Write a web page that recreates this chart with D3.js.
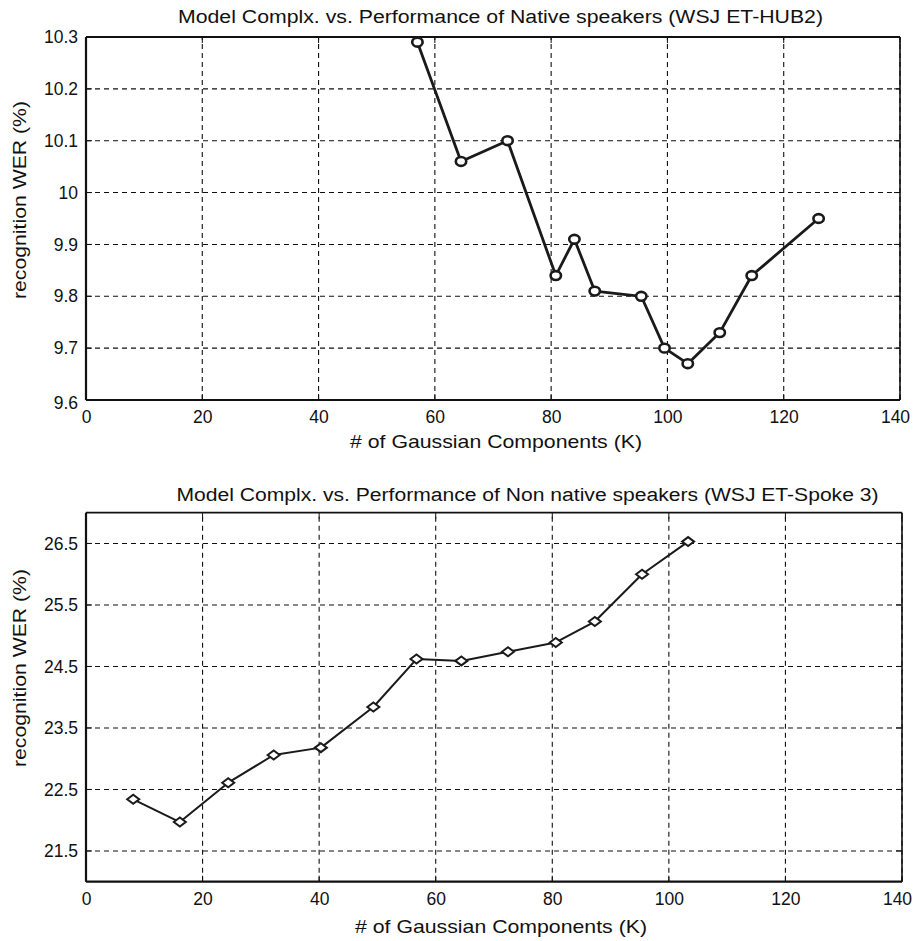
<!DOCTYPE html>
<html><head><meta charset="utf-8">
<script src="https://cdn.jsdelivr.net/npm/d3@7"></script>
<style>
html,body{margin:0;padding:0;background:#fff;}
text{font-family:"Liberation Sans",Arial,Helvetica,sans-serif;fill:#111;}
</style></head>
<body>
<svg id="chart" width="915" height="941"></svg>
<script>
// ---- data ----
const nativeK   = [57, 64.5, 72.5, 80.8, 84, 87.5, 95.5, 99.5, 103.5, 109, 114.5, 126];
const nativeWER = [10.29, 10.06, 10.10, 9.84, 9.91, 9.81, 9.80, 9.70, 9.67, 9.73, 9.84, 9.95];
const nonNativeK   = [8.1, 16.1, 24.4, 32.2, 40.3, 49.3, 56.7, 64.4, 72.4, 80.6, 87.3, 95.4, 103.3];
const nonNativeWER = [22.34, 21.97, 22.61, 23.06, 23.18, 23.84, 24.62, 24.59, 24.74, 24.89, 25.23, 26.0, 26.53];
const xTicks = [0, 20, 40, 60, 80, 100, 120, 140];
const yTicksTop = [9.6, 9.7, 9.8, 9.9, 10, 10.1, 10.2, 10.3];
const yTicksBottom = [21.5, 22.5, 23.5, 24.5, 25.5, 26.5];
const titleTop = "Model  Complx. vs. Performance of Native speakers (WSJ ET-HUB2)";
const titleBottom = "Model Complx. vs. Performance of Non native speakers (WSJ ET-Spoke 3)";
const xLabel = "# of Gaussian Components (K)";
const yLabel = "recognition WER (%)";

const svg = d3.select("#chart");

function panel(cfg) {
  const g = svg.append("g");
  const x = d3.scaleLinear().domain([0, 140]).range([cfg.left, cfg.right]);
  const y = d3.scaleLinear().domain(cfg.yDomain).range([cfg.bottom, cfg.top]);

  // grid
  const grid = g.append("g").attr("stroke", "#111").attr("stroke-width", 1.1)
    .attr("stroke-dasharray", "5,4");
  xTicks.filter(t => t > 0).forEach(t => {
    grid.append("line").attr("x1", x(t)).attr("x2", x(t)).attr("y1", cfg.bottom).attr("y2", cfg.top);
  });
  cfg.yTicks.filter(t => y(t) < cfg.bottom - 1 && y(t) > cfg.top + 1).forEach(t => {
    grid.append("line").attr("x1", cfg.left).attr("x2", cfg.right).attr("y1", y(t)).attr("y2", y(t));
  });

  // axes via d3
  const xAxis = d3.axisBottom(x).tickValues(xTicks).tickSize(0).tickPadding(10).tickFormat(d3.format("d"));
  const gx = g.append("g").attr("transform", `translate(0,${cfg.bottom})`).call(xAxis);
  gx.select(".domain").remove();
  gx.selectAll("text").attr("font-size", 17.5).attr("font-family", "Liberation Sans, Arial, sans-serif").attr("fill", "#111").attr("dy", "0.75em");
  gx.selectAll("text").filter(d => d === 140).attr("dx", -5);

  const yAxis = d3.axisLeft(y).tickValues(cfg.yTicks).tickSize(0).tickPadding(8).tickFormat(d => String(d));
  const gy = g.append("g").attr("transform", `translate(${cfg.left},0)`).call(yAxis);
  gy.select(".domain").remove();
  gy.selectAll("text").attr("font-size", 17.5).attr("font-family", "Liberation Sans, Arial, sans-serif").attr("fill", "#111");
  if (cfg.lowLabelShift) {
    gy.selectAll("text").filter(d => d === cfg.yDomain[0]).attr("dy", "0.5em");
  }

  // inward ticks on right & top
  const tk = g.append("g").attr("stroke", "#111").attr("stroke-width", 1);
  cfg.yTicks.forEach(t => {
    tk.append("line").attr("x1", cfg.right).attr("x2", cfg.right - 6).attr("y1", y(t)).attr("y2", y(t));
    tk.append("line").attr("x1", cfg.left).attr("x2", cfg.left + 6).attr("y1", y(t)).attr("y2", y(t));
  });
  xTicks.forEach(t => {
    tk.append("line").attr("x1", x(t)).attr("x2", x(t)).attr("y1", cfg.top).attr("y2", cfg.top + 6);
    tk.append("line").attr("x1", x(t)).attr("x2", x(t)).attr("y1", cfg.bottom).attr("y2", cfg.bottom - 6);
  });

  // frame
  const fr = g.append("g").attr("stroke", "#111").attr("fill", "none");
  fr.append("line").attr("x1", cfg.left).attr("x2", cfg.right).attr("y1", cfg.top).attr("y2", cfg.top).attr("stroke-width", 1.8);
  fr.append("line").attr("x1", cfg.left).attr("x2", cfg.right).attr("y1", cfg.bottom).attr("y2", cfg.bottom).attr("stroke-width", 2.2);
  fr.append("line").attr("x1", cfg.left).attr("x2", cfg.left).attr("y1", cfg.top).attr("y2", cfg.bottom).attr("stroke-width", 2.2);
  fr.append("line").attr("x1", cfg.right).attr("x2", cfg.right).attr("y1", cfg.top).attr("y2", cfg.bottom).attr("stroke-width", 1.6);

  // data line
  const pts = cfg.xs.map((k, i) => [k, cfg.ys[i]]);
  const line = d3.line().x(d => x(d[0])).y(d => y(d[1]));
  g.append("path").datum(pts).attr("d", line).attr("fill", "none").attr("stroke", "#1a1a1a")
    .attr("stroke-width", cfg.lineW).attr("stroke-linejoin", "round");

  // markers
  if (cfg.marker === "circle") {
    g.selectAll(".m").data(pts).enter().append("ellipse")
      .attr("cx", d => x(d[0])).attr("cy", d => y(d[1])).attr("rx", 5.2).attr("ry", 4.4)
      .attr("fill", "#fff").attr("stroke", "#1a1a1a").attr("stroke-width", 2.6);
  } else {
    g.selectAll(".m").data(pts).enter().append("path")
      .attr("d", d => `M${x(d[0]) - 6},${y(d[1])} L${x(d[0])},${y(d[1]) - 4.5} L${x(d[0]) + 6},${y(d[1])} L${x(d[0])},${y(d[1]) + 4.5} Z`)
      .attr("fill", "#fff").attr("stroke", "#1a1a1a").attr("stroke-width", 2);
  }

  // title & labels
  g.append("text").attr("x", cfg.titleX).attr("y", cfg.titleY).attr("text-anchor", "middle")
    .attr("font-size", 18).attr("textLength", cfg.titleW).attr("lengthAdjust", "spacingAndGlyphs").text(cfg.title);
  g.append("text").attr("x", cfg.xLabX).attr("y", cfg.xLabY).attr("text-anchor", "middle")
    .attr("font-size", 19).attr("textLength", 292).attr("lengthAdjust", "spacingAndGlyphs").text(xLabel);
  g.append("text").attr("transform", `translate(${cfg.yLabX},${cfg.yLabY}) rotate(-90)`).attr("text-anchor", "middle")
    .attr("font-size", 19).attr("textLength", 198).attr("lengthAdjust", "spacingAndGlyphs").text(yLabel);
}

panel({
  left: 86, right: 900, top: 37, bottom: 400, yDomain: [9.6, 10.3], yTicks: yTicksTop,
  xs: nativeK, ys: nativeWER, marker: "circle", lineW: 2.8, lowLabelShift: true,
  title: titleTop, titleX: 500.5, titleY: 23, titleW: 645,
  xLabX: 496, xLabY: 448, yLabX: 26, yLabY: 200
});
panel({
  left: 86, right: 902, top: 512.7, bottom: 881.7, yDomain: [21, 27], yTicks: yTicksBottom,
  xs: nonNativeK, ys: nonNativeWER, marker: "diamond", lineW: 2,
  title: titleBottom, titleX: 527.5, titleY: 501, titleW: 702,
  xLabX: 501, xLabY: 933, yLabX: 26, yLabY: 668
});
</script>
</body></html>
